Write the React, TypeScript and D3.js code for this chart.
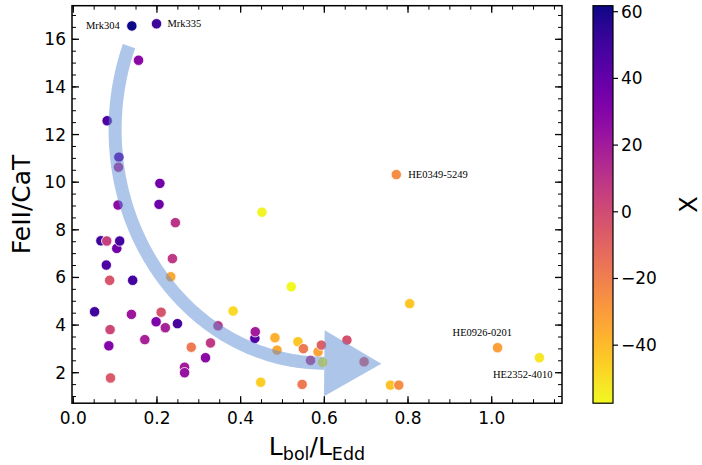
import React from 'react';
import * as d3 from 'd3';

// ---- data ----
const lbolLedd = [
  0.140, 0.199, 0.156, 0.081, 0.109, 0.108, 0.207, 0.205, 0.107, 0.244,
  0.451, 0.066, 0.080, 0.104, 0.111, 0.237, 0.079, 0.233, 0.087, 0.142,
  0.521, 0.051, 0.139, 0.210, 0.382, 0.198, 0.220, 0.249, 0.088, 0.085,
  0.171, 0.346, 0.434, 0.435, 0.282, 0.328, 0.316, 0.266, 0.266, 0.089,
  0.482, 0.487, 0.537, 0.550, 0.585, 0.593, 0.567, 0.596, 0.654, 0.695,
  0.448, 0.547, 0.758, 0.778, 0.772, 0.804, 1.014, 1.114,
];
const feiiCaT = [
  16.56, 16.65, 15.12, 12.58, 11.05, 10.63, 9.95, 9.07, 9.04, 8.30,
  8.74, 7.54, 7.53, 7.22, 7.53, 6.79, 6.52, 6.03, 5.88, 5.88,
  5.61, 4.56, 4.45, 4.54, 4.59, 4.14, 3.89, 4.06, 3.81, 3.13,
  3.39, 3.97, 3.44, 3.72, 3.07, 3.25, 2.63, 2.23, 2.00, 1.78,
  3.47, 2.95, 3.30, 3.01, 2.88, 3.16, 2.52, 2.44, 3.37, 2.46,
  1.60, 1.51, 1.48, 1.48, 10.32, 4.90, 3.05, 2.63,
];
const chiValues = [
  61.8, 51, 28, 46, 43, 14, 36, 37, 27, 10,
  -56, 50, 5, 36, 49, 8, 46, -34, -4, 49,
  -57.4, 50, 22, -3, -49, 32, 18, 48, 2, 30,
  18, 10, 45, 20, -18, 8, 28, 20, 24, -5,
  -36, -34, -43, -18, -33, -8, 8, -55, -2, -8,
  -45, -18, -42, -25, -25, -43, -31, -52,
];
const labelNames = ['Mrk304', 'Mrk335', 'HE0349-5249', 'HE0926-0201', 'HE2352-4010'];
const labelPoint = [0, 1, 54, 56, 57];

const xTicks = [0, 0.2, 0.4, 0.6, 0.8, 1.0];
const yTicks = [2, 4, 6, 8, 10, 12, 14, 16];
const cTicks = [-40, -20, 0, 20, 40, 60];

// arrow annotation (data coordinates of an elliptical arc)
const arrowArc = { cx: 0.6, cy: 12.2, rx: 0.5, ry: 9.8, fromDeg: 159, toDeg: 270 };

// ---- layout / style ----
const W = 702, H = 465;
const PL = 72, PR = 562, PT = 5.7, PB = 403.2;
const CBL = 593, CBR = 613;
const X_DOMAIN = [-0.003, 1.168];
const Y_DOMAIN = [0.72, 17.41];
const C_DOMAIN = [-57.4, 61.8];
const SANS = 'DejaVu Sans, sans-serif';
const SERIF = 'Liberation Serif, Times New Roman, serif';

const labelStyle: Record<string, { dx: number; dy: number; anchor: string }> = {
  'Mrk304': { dx: -12, dy: 3.5, anchor: 'end' },
  'Mrk335': { dx: 11, dy: 3.5, anchor: 'start' },
  'HE0349-5249': { dx: 12, dy: 3.5, anchor: 'start' },
  'HE0926-0201': { dx: 14.5, dy: -11.5, anchor: 'end' },
  'HE2352-4010': { dx: 13, dy: 20, anchor: 'end' },
};

const fmtMinus = (v: number) => (v < 0 ? '\u2212' + Math.abs(v) : String(v));

export default function App() {
  const x = d3.scaleLinear().domain(X_DOMAIN).range([PL, PR]);
  const y = d3.scaleLinear().domain(Y_DOMAIN).range([PB, PT]);
  const cy = d3.scaleLinear().domain(C_DOMAIN).range([PB, PT]);
  const color = (v: number) =>
    d3.interpolatePlasma((C_DOMAIN[1] - v) / (C_DOMAIN[1] - C_DOMAIN[0]));

  const xMinor = d3.range(0, 1.1501, 0.05).filter((v) => v >= X_DOMAIN[0] && v <= X_DOMAIN[1]);
  const yMinor = d3.range(1, 17.01, 0.5);

  // arrow
  const arcPts: [number, number][] = d3.range(arrowArc.fromDeg, arrowArc.toDeg + 0.001, 1).map((deg) => {
    const a = (deg * Math.PI) / 180;
    return [x(arrowArc.cx + arrowArc.rx * Math.cos(a)), y(arrowArc.cy + arrowArc.ry * Math.sin(a))];
  });
  const arcPath = d3.line()(arcPts) || '';
  const pEnd = arcPts[arcPts.length - 1];
  const pPrev = arcPts[arcPts.length - 2];
  let tx = pEnd[0] - pPrev[0], ty = pEnd[1] - pPrev[1];
  const tl = Math.hypot(tx, ty); tx /= tl; ty /= tl;
  const nx = -ty, ny = tx;
  const headHalf = 33, headLen = 57;
  const headPath = `M${pEnd[0] + nx * headHalf},${pEnd[1] + ny * headHalf}L${pEnd[0] + tx * headLen},${pEnd[1] + ty * headLen}L${pEnd[0] - nx * headHalf},${pEnd[1] - ny * headHalf}Z`;

  const stops = d3.range(0, 1.0001, 0.05);

  return (
    <svg width={W} height={H} style={{ position: 'absolute', left: 0, top: 0, background: '#fff' }}>
      <defs>
        <linearGradient id="cbar" x1="0" y1="1" x2="0" y2="0">
          {stops.map((s) => (
            <stop key={s} offset={s} stopColor={d3.interpolatePlasma(1 - s)} />
          ))}
        </linearGradient>
        <clipPath id="plotclip">
          <rect x={PL} y={PT} width={PR - PL} height={PB - PT} />
        </clipPath>
      </defs>
      <rect x={0} y={0} width={W} height={H} fill="#fff" />

      {/* points */}
      <g clipPath="url(#plotclip)">
        {lbolLedd.map((xv, i) => (
          <circle key={i} cx={x(xv)} cy={y(feiiCaT[i])} r={5.2} fill={color(chiValues[i])} stroke="#fff" strokeWidth={0.8} />
        ))}
        {/* arrow */}
        <g opacity={0.5}>
          <path d={arcPath} fill="none" stroke="rgb(93,141,213)" strokeWidth={13} strokeLinecap="butt" />
          <path d={headPath} fill="rgb(93,141,213)" />
        </g>
      </g>

      {/* labels */}
      {labelNames.map((name, k) => {
        const i = labelPoint[k];
        const st = labelStyle[name];
        return (
          <text key={name} x={x(lbolLedd[i]) + st.dx} y={y(feiiCaT[i]) + st.dy} fontFamily={SERIF} fontSize={10.5} textAnchor={st.anchor} fill="#000">
            {name}
          </text>
        );
      })}

      {/* ticks */}
      <g stroke="#000">
        {xTicks.map((t) => (
          <g key={'xt' + t}>
            <line x1={x(t)} x2={x(t)} y1={PB} y2={PB - 7} strokeWidth={1.3} />
            <line x1={x(t)} x2={x(t)} y1={PT} y2={PT + 7} strokeWidth={1.3} />
          </g>
        ))}
        {xMinor.map((t) => (
          <g key={'xm' + t}>
            <line x1={x(t)} x2={x(t)} y1={PB} y2={PB - 4} strokeWidth={1} />
            <line x1={x(t)} x2={x(t)} y1={PT} y2={PT + 4} strokeWidth={1} />
          </g>
        ))}
        {yTicks.map((t) => (
          <g key={'yt' + t}>
            <line x1={PL} x2={PL + 7} y1={y(t)} y2={y(t)} strokeWidth={1.3} />
            <line x1={PR} x2={PR - 7} y1={y(t)} y2={y(t)} strokeWidth={1.3} />
          </g>
        ))}
        {yMinor.map((t) => (
          <g key={'ym' + t}>
            <line x1={PL} x2={PL + 4} y1={y(t)} y2={y(t)} strokeWidth={1} />
            <line x1={PR} x2={PR - 4} y1={y(t)} y2={y(t)} strokeWidth={1} />
          </g>
        ))}
      </g>
      <rect x={PL} y={PT} width={PR - PL} height={PB - PT} fill="none" stroke="#000" strokeWidth={1.5} />

      {/* tick labels */}
      {xTicks.map((t) => (
        <text key={'xl' + t} x={x(t)} y={PB + 21} fontFamily={SANS} fontSize={17} textAnchor="middle" fill="#000">
          {t.toFixed(1)}
        </text>
      ))}
      {yTicks.map((t) => (
        <text key={'yl' + t} x={PL - 6} y={y(t) + 6} fontFamily={SANS} fontSize={17} textAnchor="end" fill="#000">
          {t}
        </text>
      ))}

      {/* axis labels */}
      <text x={(PL + PR) / 2} y={455} fontFamily={SANS} fontSize={25} textAnchor="middle" fill="#000">
        L<tspan fontSize={17.5} dy={5}>bol</tspan>
        <tspan dy={-5}>/L</tspan>
        <tspan fontSize={17.5} dy={5}>Edd</tspan>
      </text>
      <text transform={`translate(30,${(PT + PB) / 2}) rotate(-90)`} fontFamily={SANS} fontSize={25} textAnchor="middle" fill="#000">
        FeII/CaT
      </text>

      {/* colorbar */}
      <rect x={CBL} y={PT} width={CBR - CBL} height={PB - PT} fill="url(#cbar)" stroke="#000" strokeWidth={1.2} />
      {cTicks.map((t) => (
        <g key={'ct' + t}>
          <line x1={CBR} x2={CBR + 5} y1={cy(t)} y2={cy(t)} stroke="#000" strokeWidth={1.2} />
          <text x={CBR + 8} y={cy(t) + 6} fontFamily={SANS} fontSize={17} fill="#000">
            {fmtMinus(t)}
          </text>
        </g>
      ))}
      <text transform={`translate(697,${(PT + PB) / 2}) rotate(-90)`} fontFamily={SANS} fontSize={24} textAnchor="middle" fill="#000">
        X
      </text>
    </svg>
  );
}
